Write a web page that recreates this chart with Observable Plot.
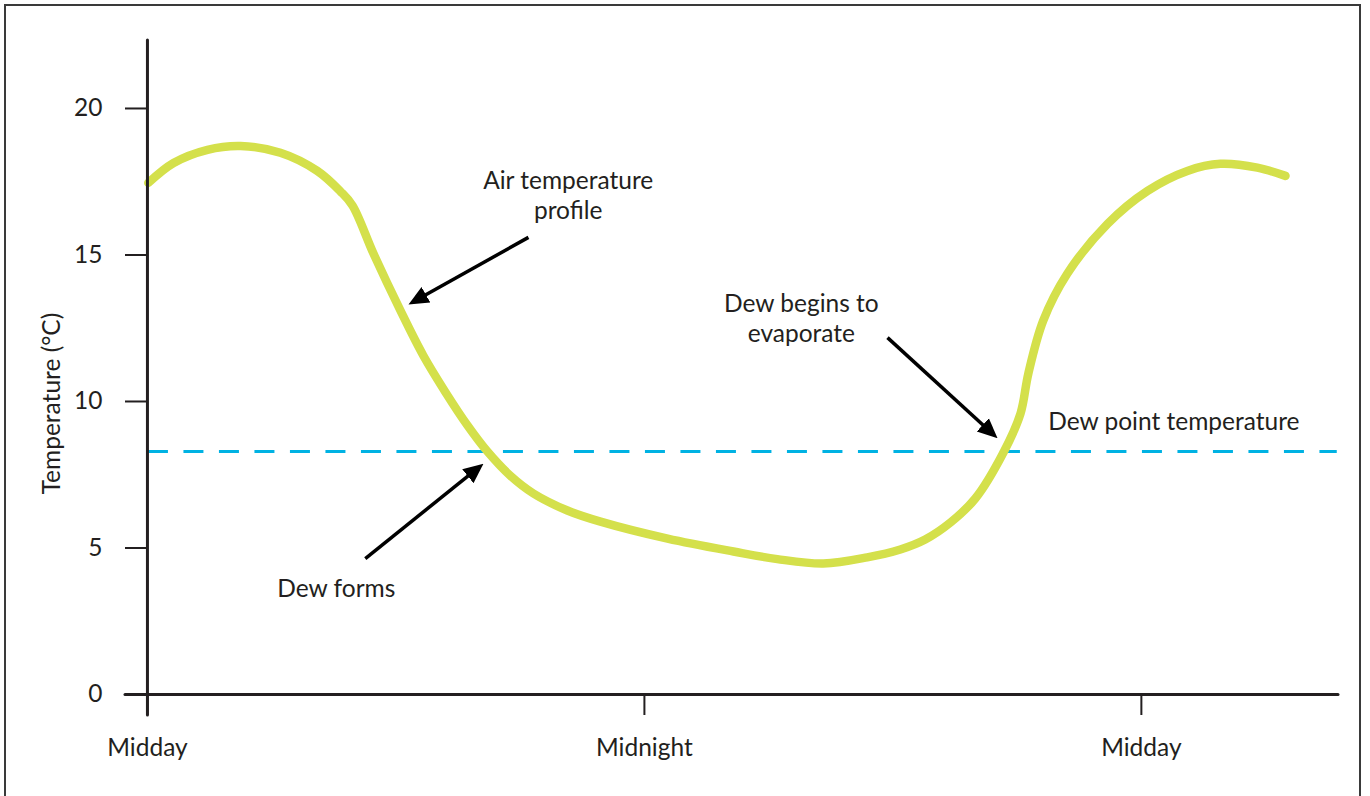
<!DOCTYPE html>
<html>
<head>
<meta charset="utf-8">
<script src="https://cdn.jsdelivr.net/npm/d3@7"></script>
<script src="https://cdn.jsdelivr.net/npm/@observablehq/plot@0.6"></script>
<style>
  html, body { margin: 0; padding: 0; background: #fff; overflow: hidden; }
  #wrap { position: relative; width: 1370px; height: 796px; }
  #border { position: absolute; left: 4px; top: 4px; width: 1357px; height: 900px; border: 2px solid #3a3a3a; box-sizing: border-box; pointer-events: none; }
  #chart { position: absolute; left: 0; top: 0; }
</style>
</head>
<body>
<div id="wrap"><div id="chart"></div><div id="border"></div></div>
<script>
// ---- data (hours after midday, temperature °C) ----
const hours = [0.02, 0.63, 1.45, 2.25, 3.21, 4.10, 4.66, 4.95, 5.46, 6.11, 6.66, 7.20, 7.73, 8.21, 8.76, 9.32, 10.14, 10.94, 12.56, 14.15, 15.21, 16.32, 17.38, 18.18, 18.78, 19.39, 19.99, 20.67, 21.08, 21.27, 21.63, 22.21, 23.18, 24.15, 25.11, 25.91, 26.80, 27.48];
const airTemp = [17.46, 18.14, 18.59, 18.72, 18.49, 17.87, 17.17, 16.69, 15.04, 13.10, 11.57, 10.31, 9.18, 8.29, 7.47, 6.86, 6.28, 5.90, 5.32, 4.88, 4.62, 4.47, 4.68, 4.95, 5.29, 5.87, 6.69, 8.26, 9.58, 10.95, 12.76, 14.36, 16.06, 17.19, 17.87, 18.11, 17.98, 17.70];
const dewPoint = 8.29;

const yTicks = [0, 5, 10, 15, 20];
const xTickHours = [0, 12, 24];
const xTickLabels = ["Midday", "Midnight", "Midday"];

const yLabel = "Temperature (°C)";

const noteTexts = ["Air temperature\nprofile", "Dew begins to\nevaporate", "Dew point temperature", "Dew forms"];
const noteX = [10.16, 15.79, 21.75, 4.56];
const noteY = [17.06, 12.87, 9.35, 3.65];
const noteAnchor = ["middle", "middle", "start", "middle"];

const arrowX1 = [9.20, 5.26, 17.87];
const arrowY1 = [15.60, 4.64, 12.18];
const arrowX2 = [6.43, 8.00, 20.42];
const arrowY2 = [13.41, 7.75, 8.88];

// ---- derived tables ----
const curve = hours.map((h, i) => ({h, t: airTemp[i]}));
const xTicks = xTickHours.map((h, i) => ({h, label: xTickLabels[i]}));
const notes = noteTexts.map((text, i) => ({text, x: noteX[i], y: noteY[i], anchor: noteAnchor[i]}));
const arrows = arrowX1.map((x1, i) => ({x1, y1: arrowY1[i], x2: arrowX2[i], y2: arrowY2[i]}));

const INK = "#231f20";
const X0 = -0.53, X1 = 28.76, Y0 = -0.717, Y1 = 22.32;

function filledArrow(color, context) {
  const ns = "http://www.w3.org/2000/svg";
  const doc = (context && context.document) || document;
  const m = doc.createElementNS(ns, "marker");
  m.setAttribute("viewBox", "-7 -5 10 10");
  m.setAttribute("markerWidth", 20);
  m.setAttribute("markerHeight", 20);
  m.setAttribute("markerUnits", "userSpaceOnUse");
  m.setAttribute("refX", 0);
  m.setAttribute("refY", 0);
  m.setAttribute("orient", "auto");
  const p = doc.createElementNS(ns, "path");
  p.setAttribute("d", "M-7,-4.5L3,0L-7,4.5Z");
  p.setAttribute("fill", color);
  p.setAttribute("stroke", "none");
  m.appendChild(p);
  return m;
}

function build(useCustom) {
  const notesMarks = notes.map(n => Plot.text([n], {
    x: "x", y: "y", text: "text", textAnchor: n.anchor, lineAnchor: "middle",
    lineHeight: 1.22, fill: INK
  }));
  const arrowMark = useCustom
    ? Plot.link(arrows, {x1: "x1", y1: "y1", x2: "x2", y2: "y2", stroke: "#000", strokeWidth: 3.5, markerEnd: filledArrow})
    : Plot.arrow(arrows, {x1: "x1", y1: "y1", x2: "x2", y2: "y2", stroke: "#000", strokeWidth: 3.5, headLength: 18, headAngle: 70});
  return Plot.plot({
    width: 1370, height: 796,
    marginLeft: 125, marginRight: 32, marginTop: 40, marginBottom: 81,
    x: {domain: [X0, X1], axis: null},
    y: {domain: [Y0, Y1], axis: null},
    style: {fontFamily: "Lato, 'Open Sans', sans-serif", fontSize: "24.5px", color: INK, background: "transparent", overflow: "visible"},
    marks: [
      Plot.ruleY([dewPoint], {x1: 0.024, x2: 28.73, stroke: "#00b2e3", strokeWidth: 3, strokeDasharray: "20,15.5"}),
      Plot.line(curve, {x: "h", y: "t", curve: "catmull-rom", stroke: "#d4e04b", strokeWidth: 8.5, strokeLinecap: "round", strokeLinejoin: "round"}),
      // axes
      Plot.ruleX([0], {y1: Y0, y2: Y1, stroke: INK, strokeWidth: 3, strokeLinecap: "round"}),
      Plot.ruleY([0], {x1: X0, x2: X1, stroke: INK, strokeWidth: 3, strokeLinecap: "round"}),
      Plot.ruleY(yTicks, {x1: X0, x2: 0, stroke: INK, strokeWidth: 2}),
      Plot.text(yTicks, {x: X0, y: d => d, text: d => String(d), dx: -23, textAnchor: "end", lineAnchor: "middle", fill: INK}),
      Plot.ruleX(xTicks, {x: "h", y1: Y0, y2: 0, stroke: INK, strokeWidth: 2}),
      Plot.text(xTicks, {x: "h", y: Y0, text: "label", dy: 33, lineAnchor: "middle", fill: INK}),
      Plot.text([yLabel], {frameAnchor: "left", dx: -73, y: 9.93, rotate: -90, textAnchor: "middle", lineAnchor: "middle", fill: INK}),
      ...notesMarks,
      arrowMark
    ]
  });
}

let svg;
try { svg = build(true); } catch (e) { console.error(e); svg = build(false); }
document.getElementById("chart").appendChild(svg);
</script>
</body>
</html>
